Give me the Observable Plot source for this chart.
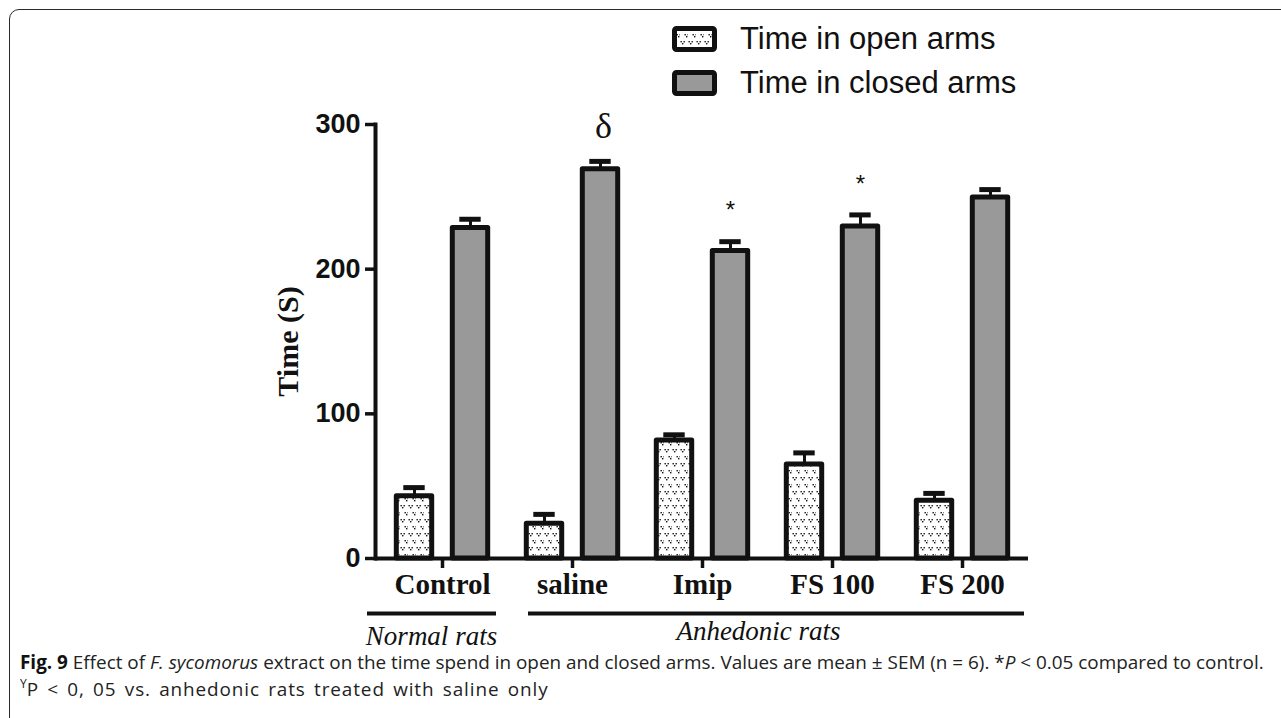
<!DOCTYPE html>
<html>
<head>
<meta charset="utf-8">
<script src="https://cdn.jsdelivr.net/npm/d3@7"></script>
<script src="https://cdn.jsdelivr.net/npm/@observablehq/plot@0.6"></script>
<style>
  body { margin: 0; background: #fff; }
  #wrap { position: relative; width: 1281px; height: 718px; overflow: hidden; background: #fff; }
  #chart { position: absolute; left: 0; top: 0; }
  #frame { position: absolute; left: 9px; top: 9px; width: 1320px; height: 760px; border: 1.6px solid #2a2a2a; border-radius: 10px; box-sizing: border-box; pointer-events: none; }
  #legend { position: absolute; left: 672px; top: 0; width: 520px; height: 110px; font-family: "Liberation Sans", Arial, sans-serif; font-size: 31px; color: #111; }
  .item { position: absolute; left: 0; height: 26px; display: flex; align-items: center; white-space: nowrap; }
  .item svg { display: block; margin-right: 23px; }
  #caption { position: absolute; left: 20px; top: 649px; font-family: "Open Sans", sans-serif; font-size: 18.9px; line-height: 27px; color: #222; white-space: nowrap; }
  #caption .l2 { letter-spacing: 0.9px; word-spacing: 2.5px; }
  #caption b { color: #111; }
  #caption sup { font-size: 12px; vertical-align: 8px; line-height: 0; letter-spacing: 0; }
</style>
</head>
<body>
<div id="wrap">
  <div id="chart"></div>
  <div id="legend"></div>
  <div id="caption">
    <div><b>Fig. 9</b> Effect of <i>F. sycomorus</i> extract on the time spend in open and closed arms. Values are mean ± SEM (n = 6). *<i>P</i> &lt; 0.05 compared to control.</div>
    <div class="l2"><sup>Y</sup>P &lt; 0, 05 vs. anhedonic rats treated with saline only</div>
  </div>
  <div id="frame"></div>
</div>
<script>
// ---- data ----
const categories = ["Control", "saline", "Imip", "FS 100", "FS 200"];
const openMean   = [43, 24, 81.5, 65, 40];
const openSem    = [6, 6.5, 4, 8, 5];
const closedMean = [228.5, 269, 212.5, 229.5, 249.5];
const closedSem  = [6, 5.5, 6.5, 8, 5.5];
const closedSignif = ["", "δ", "*", "*", ""];
const seriesNames = ["Time in open arms", "Time in closed arms"];
const yTicks = [0, 100, 200, 300];
const groupNames = ["Normal rats", "Anhedonic rats"];
const groupFirst = ["Control", "saline"];
const groupLast  = ["Control", "FS 200"];
const yLabel = "Time (S)";

// ---- table ----
const table = categories.map((c, i) => ({
  category: c, open: openMean[i], openSem: openSem[i],
  closed: closedMean[i], closedSem: closedSem[i], signif: closedSignif[i]
}));
const groups = groupNames.map((g, i) => ({name: g, first: groupFirst[i], last: groupLast[i]}));

const ink = "#111";
const serif = "Liberation Serif, Times New Roman, serif";
const sans = "Liberation Sans, Arial, sans-serif";

const chart = Plot.plot({
  width: 1281,
  height: 660,
  marginLeft: 375,
  marginRight: 253,
  marginTop: 124,
  marginBottom: 102,
  style: {background: "transparent", overflow: "visible", fontFamily: sans, color: ink},
  x: {domain: categories, padding: 0, axis: null},
  y: {domain: [0, 300], axis: null},
  marks: [
    // bars
    Plot.barY(table, {x: "category", y: "open", fill: "url(#dots)", stroke: ink, strokeWidth: 5,
      strokeLinejoin: "round", insetLeft: 19.3, insetRight: 75.3}),
    Plot.barY(table, {x: "category", y: "closed", fill: "#999999", stroke: ink, strokeWidth: 5,
      strokeLinejoin: "round", insetLeft: 75.3, insetRight: 19.3}),
    // error bars (upper only)
    Plot.ruleX(table, {x: "category", y1: "open", y2: d => d.open + d.openSem, dx: -28, stroke: ink, strokeWidth: 3}),
    Plot.tickY(table, {x: "category", y: d => d.open + d.openSem, insetLeft: 26.3, insetRight: 82.3, stroke: ink, strokeWidth: 5}),
    Plot.ruleX(table, {x: "category", y1: "closed", y2: d => d.closed + d.closedSem, dx: 28, stroke: ink, strokeWidth: 3}),
    Plot.tickY(table, {x: "category", y: d => d.closed + d.closedSem, insetLeft: 82.3, insetRight: 26.3, stroke: ink, strokeWidth: 5}),
    // significance markers
    Plot.text(table.filter(d => d.signif === "*"), {x: "category", y: d => d.closed + d.closedSem, text: "signif",
      dx: 28, dy: -31, fontSize: 24, fontFamily: sans, fill: ink}),
    Plot.text(table.filter(d => d.signif === "δ"), {x: "category", y: d => d.closed + d.closedSem, text: "signif",
      dx: 31, dy: -35, fontSize: 36, fontFamily: serif, fill: ink}),
    // axes
    Plot.frame({anchor: "left", stroke: ink, strokeWidth: 4}),
    Plot.ruleY([0], {stroke: ink, strokeWidth: 4}),
    Plot.axisY({ticks: yTicks, tickSize: 10, tickPadding: 5, stroke: ink, strokeWidth: 3.5, label: null,
      fontSize: 27, fontWeight: "bold", fontFamily: sans, fill: ink}),
    Plot.axisX({tickSize: 10, tickPadding: 5, stroke: ink, strokeWidth: 3.5, label: null,
      fontSize: 29, fontWeight: "bold", fontFamily: serif, fill: ink}),
    Plot.text([yLabel], {text: d => d, frameAnchor: "left", textAnchor: "middle", rotate: -90, dx: -87,
      fontSize: 30, fontWeight: "bold", fontFamily: serif, fill: ink}),
    // group annotations
    Plot.ruleY([groups[0]], {y: () => 0, x1: "first", x2: "last", dy: 55, insetLeft: -10, insetRight: 11, stroke: ink, strokeWidth: 4}),
    Plot.ruleY([groups[1]], {y: () => 0, x1: "first", x2: "last", dy: 55, insetLeft: 21, insetRight: 3, stroke: ink, strokeWidth: 4}),
    Plot.text([groups[0]], {x: "first", y: () => 0, text: "name", dx: -11, dy: 78, fontSize: 27, fontStyle: "italic", fontFamily: serif, fill: ink}),
    Plot.text([groups[1]], {x: "first", y: () => 0, text: "name", dx: 186, dy: 73, fontSize: 27, fontStyle: "italic", fontFamily: serif, fill: ink})
  ]
});

// dotted pattern for the open-arms bars
function addPattern(svgSel, id) {
  const p = svgSel.append("defs").append("pattern")
    .attr("id", id).attr("patternUnits", "userSpaceOnUse")
    .attr("width", 8).attr("height", 14);
  p.append("rect").attr("width", 8).attr("height", 14).attr("fill", "#fff");
  const pts = [[0.5, 1], [3.5, 1], [2, 3], [4.5, 8], [7.5, 8], [6, 10]];
  for (const [x, y] of pts) p.append("rect").attr("x", x).attr("y", y).attr("width", 1.4).attr("height", 1.4).attr("fill", "#111");
}
addPattern(d3.select(chart), "dots");
document.getElementById("chart").appendChild(chart);

// legend
const legend = d3.select("#legend");
const legendFills = ["url(#ldots)", "#999999"];
const legendTops = [26, 70];
seriesNames.forEach((name, i) => {
  const item = legend.append("div").attr("class", "item").style("top", legendTops[i] + "px");
  const s = item.append("svg").attr("width", 45).attr("height", 26);
  if (i === 0) addPattern(s, "ldots");
  s.append("rect").attr("x", 2.5).attr("y", 2.5).attr("width", 40).attr("height", 21).attr("rx", 2)
    .attr("fill", legendFills[i]).attr("stroke", ink).attr("stroke-width", 5);
  item.append("span").text(name);
});
</script>
</body>
</html>
